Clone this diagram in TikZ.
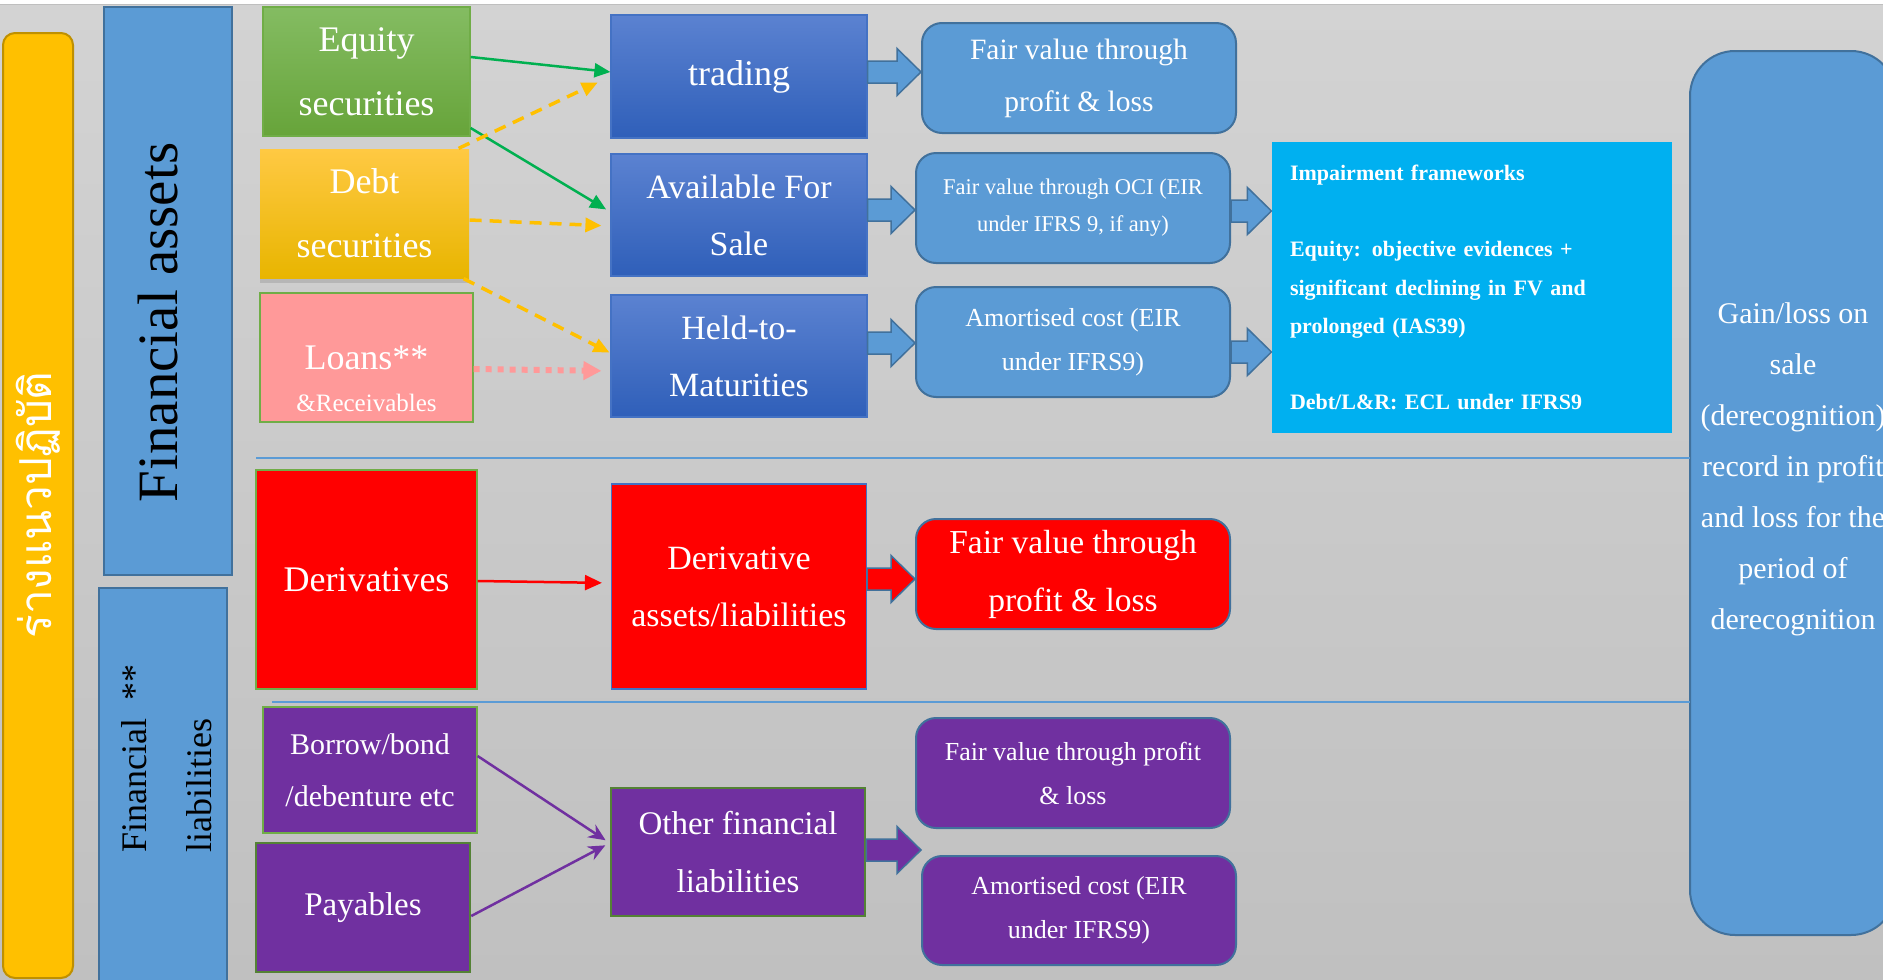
\documentclass[tikz,border=0pt]{standalone}
\usepackage{fontspec}
\setmainfont{Liberation Serif}
\newfontfamily\thaifont[Script=Thai]{Loma}
\usetikzlibrary{arrows.meta,calc,shadows}

\definecolor{bgtop}{HTML}{D3D3D3}
\definecolor{bgbot}{HTML}{C0C0C0}
\definecolor{gold}{HTML}{FFC000}
\definecolor{golddark}{HTML}{BF9000}
\definecolor{sideblue}{HTML}{5B9BD5}
\definecolor{sideedge}{HTML}{41719C}
\definecolor{classtop}{HTML}{5B82D1}
\definecolor{classbot}{HTML}{2F5FB9}
\definecolor{classedge}{HTML}{4472C4}
\definecolor{eqtop}{HTML}{84BC62}
\definecolor{eqbot}{HTML}{67A43A}
\definecolor{debttop}{HTML}{FFC943}
\definecolor{debtbot}{HTML}{E8B500}
\definecolor{loanpink}{HTML}{FF9999}
\definecolor{edgegreen}{HTML}{70AD47}
\definecolor{darkgreen}{HTML}{548235}
\definecolor{derivred}{HTML}{FF0000}
\definecolor{liabpurple}{HTML}{7030A0}
\definecolor{impcyan}{HTML}{00B0F0}
\definecolor{arrowgreen}{HTML}{00B050}

\tikzset{
  box/.style={rectangle, inner sep=0pt, align=center, text=white, line width=1.2pt},
  roundbox/.style={box, rounded corners=20pt, draw=sideedge, line width=2pt},
  classbox/.style={box, top color=classtop, bottom color=classbot, draw=classedge},
  txt/.style={text=white, align=center, inner sep=0pt},
  flow/.style={line width=2.5pt, -{Triangle[length=16pt,width=14pt]}},
  dashflow/.style={flow, gold, line width=3.5pt, dash pattern=on 12pt off 8pt},
  fatblue/.style={fill=sideblue, draw=sideedge, line width=1.5pt},
  fatred/.style={fill=derivred, draw=sideedge, line width=1.5pt},
  fatpurple/.style={fill=liabpurple, draw=sideedge, line width=1.5pt},
}

% block arrow from one node side to another, horizontal at the start height
\newcommand{\fatlink}[3]{%
  \draw[#1] let \p1=(#2), \p2=(#3) in
    (\x1,\y1+11pt) -- (\x2-24pt,\y1+11pt) -- (\x2-24pt,\y1+23.5pt) -- (\x2,\y1)
    -- (\x2-24pt,\y1-23.5pt) -- (\x2-24pt,\y1-11pt) -- (\x1,\y1-11pt) -- cycle;}

\begin{document}
\begin{tikzpicture}[x=1pt,y=-1pt]
\useasboundingbox (0,0) rectangle (1883,980);
\clip (0,0) rectangle (1883,980);
\fill[white] (0,0) rectangle (1883,980);
\shade[top color=bgtop, bottom color=bgbot] (0,4) rectangle (1883,980);
\draw[black!25, line width=1pt] (0,4) -- (1883,4);

% side bars
\node [box, fill=gold, draw=golddark, line width=2pt, rounded corners=12pt, minimum width=70pt, minimum height=945pt] (bar) at (38,505.5) {};
\node [txt, rotate=90, font=\thaifont\fontsize{44}{50}\selectfont] (bartext) at (38,505) {ร่างแนวปฏิบัติ};
\node [box, fill=sideblue, draw=sideedge, line width=2pt, minimum width=128pt, minimum height=568pt] (fa) at (168,291) {};
\node [txt, text=black, rotate=90, anchor=base, font=\fontsize{57}{60}\selectfont] (fatext) at (177,322.5) {Financial assets};
\node [box, fill=sideblue, draw=sideedge, line width=2pt, minimum width=128pt, minimum height=400pt] (fl) at (163,788) {};
\node [txt, text=black, rotate=90, align=left, anchor=south west, font=\fontsize{36}{65}\selectfont] (fltext) at (212,853) {Financial~~**\\liabilities};

% instruments
\node [box, top color=eqtop, bottom color=eqbot, draw=edgegreen, minimum width=207pt, minimum height=129pt, font=\fontsize{36}{64}\selectfont] (equity) at (366.5,71.5) {Equity\\securities};
\node [box, top color=debttop, bottom color=debtbot, drop shadow={shadow xshift=0pt, shadow yshift=-5pt, opacity=0.3}, minimum width=209pt, minimum height=129pt, font=\fontsize{36}{64}\selectfont] (debt) at (364.5,213.5) {Debt\\securities};
\node [box, fill=loanpink, draw=edgegreen, minimum width=213pt, minimum height=129pt] (loans) at (366.5,357.5) {};
\node [txt, font=\fontsize{36}{42}\selectfont] (loanstext) at (366.5,379) {Loans**\\{\fontsize{25}{30}\selectfont \&Receivables}};
\node [box, fill=derivred, draw=edgegreen, minimum width=221pt, minimum height=219pt, font=\fontsize{36}{40}\selectfont] (derivs) at (366.5,579.5) {Derivatives};
\node [box, fill=liabpurple, draw=edgegreen, minimum width=214pt, minimum height=126pt, font=\fontsize{30}{52}\selectfont] (borrow) at (370,770) {Borrow/bond\\/debenture etc};
\node [box, fill=liabpurple, draw=darkgreen, line width=2.5pt, minimum width=214pt, minimum height=129pt, font=\fontsize{33}{40}\selectfont] (payables) at (363,907.5) {Payables};

% classifications
\node [classbox, minimum width=256pt, minimum height=123pt, font=\fontsize{36}{40}\selectfont] (trading) at (739,76.5) {trading};
\node [classbox, minimum width=256pt, minimum height=122pt, font=\fontsize{34}{57}\selectfont] (afs) at (739,215) {Available For\\Sale};
\node [classbox, minimum width=256pt, minimum height=122pt, font=\fontsize{34}{57}\selectfont] (htm) at (739,356) {Held-to-\\Maturities};
\node [box, fill=derivred, draw=classedge, minimum width=255pt, minimum height=205pt, font=\fontsize{34}{57}\selectfont] (deriv) at (739,586.5) {Derivative\\assets/liabilities};
\node [box, fill=liabpurple, draw=darkgreen, line width=2.5pt, minimum width=254pt, minimum height=128pt, font=\fontsize{33}{58}\selectfont] (ofl) at (738,852) {Other financial\\liabilities};

% measurement
\node [roundbox, fill=sideblue, minimum width=314pt, minimum height=110pt, font=\fontsize{29.5}{52}\selectfont] (tpl) at (1079,78) {Fair value through\\profit \& loss};
\node [roundbox, fill=sideblue, minimum width=314pt, minimum height=110pt, font=\fontsize{22.5}{37}\selectfont] (oci) at (1073,208) {Fair value through OCI (EIR\\under IFRS 9, if any)};
\node [roundbox, fill=sideblue, minimum width=314pt, minimum height=110pt, font=\fontsize{26}{44}\selectfont] (amc) at (1073,342) {Amortised cost (EIR\\under IFRS9)};
\node [roundbox, fill=derivred, minimum width=314pt, minimum height=110pt, font=\fontsize{33.5}{58}\selectfont] (fvr) at (1073,574) {Fair value through\\profit \& loss};
\node [roundbox, fill=liabpurple, minimum width=314pt, minimum height=110pt, font=\fontsize{26}{44}\selectfont] (fpp) at (1073,773) {Fair value through profit\\\& loss};
\node [roundbox, fill=liabpurple, minimum width=314pt, minimum height=109pt, font=\fontsize{26}{44}\selectfont] (amp) at (1079,910.5) {Amortised cost (EIR\\under IFRS9)};

\node [box, fill=impcyan, minimum width=400pt, minimum height=291pt, text width=364pt, align=left, inner xsep=18pt, font=\bfseries\fontsize{22}{38.2}\selectfont] (imp) at (1472,287.5) {Impairment frameworks\\[38.2pt]Equity: objective evidences +\\significant declining in FV and\\prolonged (IAS39)\\[38.2pt]Debt/L\&R: ECL under IFRS9};

\node [box, fill=sideblue, draw=sideedge, line width=2pt, rounded corners=45pt, minimum width=206pt, minimum height=884pt] (gain) at (1793,493) {};
\node [txt, font=\fontsize{30}{51}\selectfont] (gaintext) at (1793,469) {Gain/loss on\\sale\\(derecognition)\\record in profit\\and loss for the\\period of\\derecognition};

% section dividers
\draw [sideblue, line width=1.5pt] (256,458) -- (1690,458);
\draw [sideblue, line width=1.5pt] (272,702) -- (1690,702);

% thin arrows
\draw [flow, arrowgreen] ([yshift=14.5pt]equity.east) -- ([yshift=4.5pt]trading.west);
\draw [flow, arrowgreen, shorten >=5pt] ([yshift=-56.5pt]equity.east) -- ([yshift=3pt]afs.west);
\draw [dashflow, shorten >=14pt] ([xshift=-11pt]debt.north east) -- (trading.west);
\draw [dashflow, shorten >=9pt] ([yshift=-6.5pt]debt.east) -- ([yshift=-11pt]afs.west);
\draw [dashflow, shorten >=1pt] ([xshift=-6pt]debt.south east) -- ([yshift=3pt]htm.west);
\draw [loanpink, line width=6pt, dash pattern=on 6pt off 6pt, -{Triangle[length=18pt,width=18pt]}, shorten >=9pt] ([yshift=-11.5pt]loans.east) -- ([yshift=-15pt]htm.west);
\draw [flow, derivred, -{Triangle[length=17pt,width=15pt]}, shorten >=9pt] ([yshift=-1.5pt]derivs.east) -- ([yshift=3.5pt]deriv.west);
\draw [flow, liabpurple, -{Stealth[length=17pt,width=15pt]}, shorten >=5pt] ([yshift=14pt]borrow.east) -- ([yshift=9pt]ofl.west);
\draw [flow, liabpurple, -{Stealth[length=17pt,width=15pt]}, shorten >=5pt] ([yshift=-8.5pt]payables.east) -- ([yshift=9pt]ofl.west);

% block arrows
\fatlink{fatblue}{[yshift=4.5pt]trading.east}{tpl.west}
\fatlink{fatblue}{[yshift=5pt]afs.east}{oci.west}
\fatlink{fatblue}{[yshift=13pt]htm.east}{amc.west}
\fatlink{fatblue}{[yshift=-3pt]oci.east}{imp.west}
\fatlink{fatblue}{[yshift=-10pt]amc.east}{imp.west}
\fatlink{fatred}{[yshift=7.5pt]deriv.east}{fvr.west}
\fatlink{fatpurple}{[yshift=2pt]ofl.east}{amp.west}
\end{tikzpicture}
\end{document}
